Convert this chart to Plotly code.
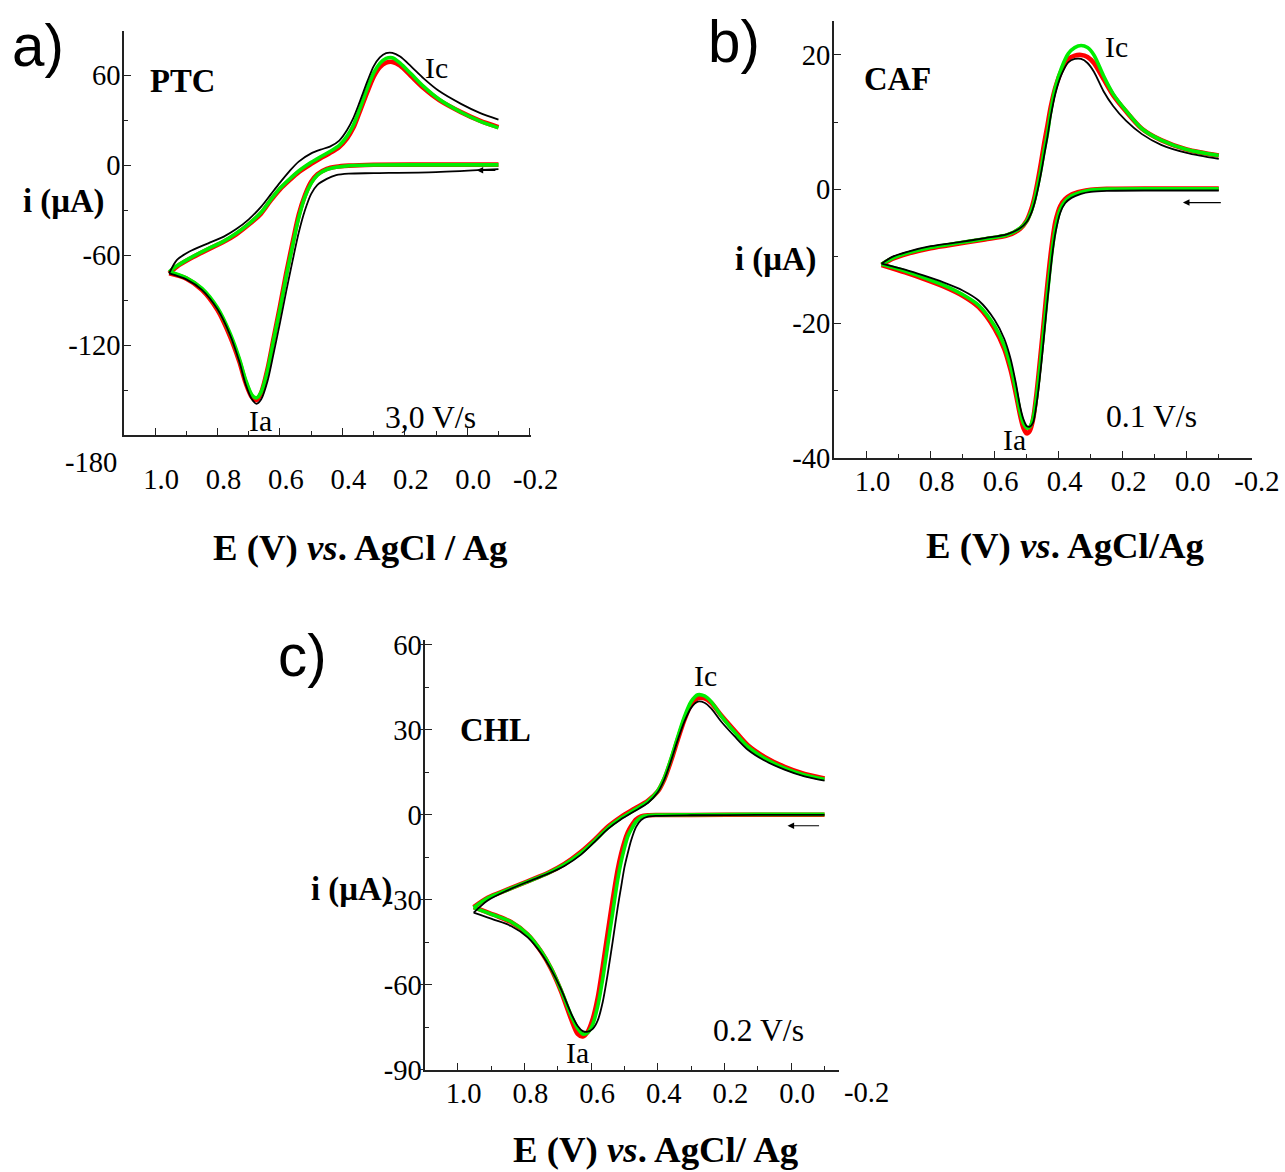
import plotly.graph_objects as go

# Target picture size. The page is shown scaled by S with a top offset OY in the picture,
# so the figure is laid out in page pixels and every position is given in picture pixels.
W, H = 1285, 1172
S, OY = 0.978, 10.3
FW, FH = 1314, 1195

def px(x): return (x / S) / FW
def py(y): return 1 - ((y - OY) / S) / FH
def f(s): return round(s / S, 1)
def fi(s): return int(round(s / S))

SERIF = "Liberation Serif"
SANS = "Liberation Sans"

# ---------------- Panel a (PTC, 3.0 V/s) ----------------
E_A_fwd = [-0.10, 0.10, 0.30, 0.38, 0.42, 0.45, 0.48, 0.50, 0.52, 0.54, 0.56, 0.58, 0.60,
           0.62, 0.64, 0.66, 0.675, 0.69, 0.71, 0.73, 0.76, 0.80, 0.85, 0.90, 0.955]
I_A_fwd_red = [0.5, 0.5, 0.4, -0.2, -1.0, -2.4, -6.0, -11.0, -20, -33, -52, -72, -94,
               -115, -136, -151.5, -156.5, -154.5, -145, -131, -114, -96.5, -83, -75.5, -72]
I_A_fwd_green = [0.3, 0.3, 0.2, -0.3, -1.3, -2.8, -6.5, -12, -21, -35, -54, -74, -96,
                 -116, -137, -151, -155, -153, -143, -129, -112, -95, -82, -75, -71]
I_A_fwd_black = [-2.5, -4.5, -5.2, -5.5, -6.5, -9, -13, -19, -30, -45, -64, -84, -105,
                 -125, -144, -156, -159, -156, -146, -131, -113, -96, -83, -76, -72]
E_A_rev = [0.955, 0.93, 0.89, 0.83, 0.78, 0.74, 0.70, 0.66, 0.63, 0.60, 0.57, 0.54, 0.50,
           0.47, 0.44, 0.41, 0.385, 0.365, 0.345, 0.32, 0.30, 0.28, 0.26, 0.24, 0.215,
           0.18, 0.14, 0.09, 0.02, -0.04, -0.10]
I_A_rev_red = [-72, -67.5, -62.5, -56, -51, -46, -39.5, -32, -23.5, -16, -10, -4.5, 1,
               4.8, 8.2, 12.3, 18, 25, 35.5, 49, 59, 65.5, 68.5, 69, 66.5,
               59.5, 51.5, 43.5, 35.5, 29.8, 25.5]
I_A_rev_green = [-71, -67, -62, -55.5, -50.5, -45.3, -39, -31.3, -23, -15.3, -9.3, -3.8, 2,
                 5.7, 9.2, 13.3, 19.5, 26.7, 37.3, 51.5, 61.6, 68, 71.3, 71.8, 68.2,
                 61, 52.6, 44, 35.4, 29.5, 25]
I_A_rev_black = [-72, -63, -57.5, -52, -47.5, -42.5, -36, -27.5, -19.5, -11.5, -4, 2.5, 8,
                 10.5, 12.5, 16.5, 23.5, 31.5, 42, 56, 66, 72, 74.8, 75, 72.5,
                 66, 58, 49.5, 41, 35, 30.5]

# ---------------- Panel b (CAF, 0.1 V/s) ----------------
E_B_fwd = [-0.10, 0.10, 0.25, 0.30, 0.33, 0.36, 0.38, 0.395, 0.41, 0.42, 0.43, 0.44, 0.45,
           0.46, 0.47, 0.48, 0.49, 0.50, 0.51, 0.52, 0.535, 0.55, 0.57, 0.60, 0.65, 0.70,
           0.76, 0.82, 0.88, 0.953]
I_B_fwd_red = [0.1, 0.1, 0.05, -0.1, -0.35, -0.8, -1.5, -2.5, -4.8, -7.8, -11.8, -16.5, -21.5,
               -26.3, -30.8, -34.3, -36.0, -36.4, -35.6, -33.8, -30.2, -27.0, -23.8, -20.8,
               -17.6, -15.9, -14.5, -13.4, -12.4, -11.3]
I_B_fwd_green = [0.05, 0.05, 0.0, -0.15, -0.45, -1.0, -1.8, -3.0, -5.8, -9.0, -13.2, -17.9, -22.7,
                 -27.2, -31.4, -34.2, -35.4, -35.6, -34.9, -33.3, -29.6, -26.4, -23.3, -20.4,
                 -17.3, -15.7, -14.3, -13.2, -12.2, -11.2]
I_B_fwd_black = [-0.2, -0.2, -0.25, -0.4, -0.7, -1.3, -2.1, -3.5, -6.5, -9.8, -14.2, -19.0, -24.0,
                 -28.6, -32.3, -34.8, -35.4, -35.3, -34.3, -32.5, -28.6, -25.3, -22.3, -19.5,
                 -16.6, -15.1, -13.9, -12.9, -12.0, -11.1]
E_B_rev = [0.953, 0.92, 0.87, 0.80, 0.71, 0.63, 0.56, 0.52, 0.50, 0.485, 0.475, 0.465, 0.455,
           0.445, 0.435, 0.425, 0.41, 0.39, 0.37, 0.35, 0.33, 0.31, 0.29, 0.26, 0.23, 0.19,
           0.14, 0.08, 0.0, -0.10]
I_B_rev_red = [-11.3, -10.4, -9.6, -8.8, -8.1, -7.5, -6.9, -5.9, -4.7, -2.9, -1.1, 1.3, 4.0,
               6.9, 9.5, 12.2, 15.2, 17.8, 19.4, 19.9, 20.0, 19.7, 18.8, 16.4, 14.0, 11.6,
               9.0, 7.3, 5.9, 5.0]
I_B_rev_green = [-11.2, -10.3, -9.5, -8.7, -8.0, -7.4, -6.8, -5.8, -4.8, -3.2, -1.6, 0.6, 3.0,
                 5.8, 8.3, 11.5, 15.2, 18.2, 20.2, 21.1, 21.4, 21.1, 20.0, 16.9, 14.2, 11.7,
                 9.0, 7.3, 5.9, 5.0]
I_B_rev_black = [-11.1, -10.1, -9.3, -8.5, -7.9, -7.3, -6.7, -5.8, -4.9, -3.5, -2.0, 0.0, 2.4,
                 5.1, 7.8, 10.8, 14.3, 17.2, 18.9, 19.4, 19.4, 18.8, 17.5, 14.6, 12.4, 10.2,
                 8.2, 6.6, 5.4, 4.5]

# ---------------- Panel c (CHL, 0.2 V/s) ----------------
E_C_fwd = [-0.10, 0.10, 0.30, 0.40, 0.43, 0.45, 0.465, 0.48, 0.49, 0.50, 0.51, 0.52, 0.535,
           0.55, 0.565, 0.58, 0.595, 0.61, 0.625, 0.64, 0.66, 0.69, 0.72, 0.75, 0.79, 0.84,
           0.89, 0.952]
I_C_fwd_red = [0.1, 0.1, 0.0, 0.0, -0.1, -0.5, -1.6, -4.0, -6.2, -9.5, -13.8, -19.2, -29.8,
               -41.5, -53.5, -64.5, -72.0, -76.5, -78.2, -77.3, -72.0, -62.3, -54.3, -48.2,
               -42.2, -37.8, -35.3, -32.5]
I_C_fwd_green = [0.2, 0.2, 0.1, 0.0, -0.2, -0.8, -2.3, -5.2, -7.6, -11.7, -16.6, -22.8, -34.3,
                 -46.0, -57.8, -67.5, -73.9, -76.8, -77.3, -75.4, -70.7, -61.8, -54.0, -48.0,
                 -42.1, -37.7, -35.4, -32.7]
I_C_fwd_black = [0.0, 0.0, -0.1, -0.3, -0.6, -1.8, -4.2, -9.0, -13.5, -18.5, -25.5, -32.5, -44.5,
                 -56.0, -66.0, -72.5, -75.5, -76.5, -76.3, -74.5, -70.0, -61.5, -54.5, -48.8,
                 -43.2, -39.2, -37.0, -34.5]
E_C_rev = [0.952, 0.91, 0.85, 0.79, 0.73, 0.68, 0.63, 0.59, 0.55, 0.51, 0.47, 0.43, 0.40,
           0.38, 0.36, 0.34, 0.32, 0.30, 0.28, 0.26, 0.24, 0.21, 0.17, 0.13, 0.08, 0.02,
           -0.04, -0.10]
I_C_rev_red = [-32.5, -29.2, -26.3, -23.4, -20.5, -17.3, -13.0, -8.8, -4.2, -0.7, 2.2, 5.0, 8.3,
               12.7, 19.2, 26.6, 33.6, 39.0, 41.2, 41.2, 39.6, 35.2, 29.8, 24.6, 20.5, 17.0,
               14.5, 12.9]
I_C_rev_green = [-32.7, -29.3, -26.4, -23.5, -20.6, -17.5, -13.4, -9.2, -4.6, -1.1, 1.8, 4.7, 8.5,
                 13.2, 20.0, 27.6, 34.7, 40.0, 42.4, 42.0, 40.0, 35.0, 29.3, 24.1, 20.0, 16.5,
                 14.1, 12.6]
I_C_rev_black = [-34.5, -30.2, -26.6, -23.6, -20.8, -18.0, -14.0, -9.6, -5.0, -1.5, 1.3, 4.2, 8.0,
                 12.6, 19.2, 26.5, 33.0, 37.8, 40.0, 39.6, 37.6, 33.0, 27.8, 23.0, 19.2, 16.0,
                 13.6, 12.1]

# ---------------- Tick labels ----------------
X_TICKS = [1.0, 0.8, 0.6, 0.4, 0.2, 0.0, -0.2]
X_TICK_TEXT = ["1.0", "0.8", "0.6", "0.4", "0.2", "0.0", "-0.2"]
Y_TICKS_A = [60, 0, -60, -120, -180]
Y_TICK_TEXT_A = ["60", "0", "-60", "-120", ""]
Y_TICKS_B = [20, 0, -20, -40]
Y_TICK_TEXT_B = ["20", "0", "-20", "-40"]
Y_TICKS_C = [60, 30, 0, -30, -60, -90]
Y_TICK_TEXT_C = ["60", "30", "0", "-30", "-60", "-90"]

RED, GREEN, BLACK = "#ff0000", "#00ee00", "#000000"

panels = [
    dict(xa="x", ya="y",
         fwd=(E_A_fwd, I_A_fwd_red, I_A_fwd_green, I_A_fwd_black),
         rev=(E_A_rev, I_A_rev_red, I_A_rev_green, I_A_rev_black)),
    dict(xa="x2", ya="y2",
         fwd=(E_B_fwd, I_B_fwd_red, I_B_fwd_green, I_B_fwd_black),
         rev=(E_B_rev, I_B_rev_red, I_B_rev_green, I_B_rev_black)),
    dict(xa="x3", ya="y3",
         fwd=(E_C_fwd, I_C_fwd_red, I_C_fwd_green, I_C_fwd_black),
         rev=(E_C_rev, I_C_rev_red, I_C_rev_green, I_C_rev_black)),
]

fig = go.Figure()
styles = [(RED, 4.5), (GREEN, 3.5), (BLACK, 1.8)]
for p in panels:
    for k, (col, wid) in enumerate(styles):
        for br in ("fwd", "rev"):
            E = p[br][0]
            I = p[br][k + 1]
            fig.add_trace(go.Scatter(
                x=E, y=I, mode="lines", xaxis=p["xa"], yaxis=p["ya"],
                line=dict(color=col, width=f(wid), shape="spline", smoothing=0.8),
                showlegend=False, hoverinfo="skip"))
# empty trace so the overlay axis of panel c (outer half of its crossing ticks) is drawn
fig.add_trace(go.Scatter(x=[], y=[], xaxis="x3", yaxis="y4", mode="lines",
                         showlegend=False, hoverinfo="skip"))

tickfont = dict(family=SERIF, size=f(28), color="black")
LINE = "#222222"

def xaxis(dom, rng, standoff):
    return dict(domain=[px(dom[0]), px(dom[1])], range=rng, showgrid=False, zeroline=False,
                showline=True, linecolor=LINE, linewidth=f(1.5),
                tickmode="array", tickvals=X_TICKS, ticktext=X_TICK_TEXT,
                ticks="inside", ticklen=f(7), tickwidth=f(1.3), tickcolor=LINE,
                ticklabelstandoff=fi(standoff), ticklabelshift=fi(-6),
                minor=dict(dtick=0.1, tick0=0, ticks="inside", ticklen=f(4), tickwidth=f(1.2),
                           tickcolor=LINE),
                tickfont=tickfont, fixedrange=True)

def yaxis(dom, rng, tv, tt, mdt):
    return dict(domain=[py(dom[1]), py(dom[0])], range=rng, showgrid=False, zeroline=False,
                showline=True, linecolor=LINE, linewidth=f(1.5),
                tickmode="array", tickvals=tv, ticktext=tt,
                ticks="inside", ticklen=f(7), tickwidth=f(1.3), tickcolor=LINE,
                ticklabelstandoff=fi(-4),
                minor=dict(dtick=mdt, tick0=0, ticks="inside", ticklen=f(4), tickwidth=f(1.2),
                           tickcolor=LINE),
                tickfont=tickfont, fixedrange=True)

C_YDOM = (640, 1070)
C_YRANGE = [-90, 61.8]

fig.update_layout(
    width=FW, height=FH, margin=dict(l=0, r=0, t=0, b=0),
    paper_bgcolor="white", plot_bgcolor="white", showlegend=False,
    xaxis=dict(xaxis((124, 530.7), [1.0994, -0.2045], 18), anchor="y"),
    yaxis=dict(yaxis((31.7, 435.5), [-180, 89.3], Y_TICKS_A, Y_TICK_TEXT_A, 30), anchor="x"),
    xaxis2=dict(xaxis((833.3, 1250.7), [1.102, -0.2024], -3), anchor="y2"),
    yaxis2=dict(yaxis((21.7, 457.7), [-40, 25], Y_TICKS_B, Y_TICK_TEXT_B, 10), anchor="x2"),
    xaxis3=dict(xaxis((425, 838.3), [1.097, -0.143], -3), anchor="y3"),
    yaxis3=dict(yaxis(C_YDOM, C_YRANGE, Y_TICKS_C, Y_TICK_TEXT_C, 15), anchor="x3"),
    yaxis4=dict(overlaying="y3", anchor="x3", side="left", range=C_YRANGE,
                showgrid=False, zeroline=False, showline=False, showticklabels=False,
                tickmode="array", tickvals=Y_TICKS_C, ticks="outside", ticklen=f(6),
                tickwidth=f(1.3), tickcolor=LINE, fixedrange=True),
)

ann = []
def txt(t, x, y, size, family=SERIF, bold=False, xanchor="center"):
    s = f"<b>{t}</b>" if bold else t
    ann.append(dict(text=s, x=px(x), y=py(y), xref="paper", yref="paper",
                    xanchor=xanchor, yanchor="middle", showarrow=False,
                    font=dict(family=family, size=f(size), color="black")))

# panel letters
txt("a)", 38, 46, 57, family=SANS)
txt("b)", 733, 42, 57, family=SANS)
txt("c)", 302, 656, 57, family=SANS)
# compound names
txt("PTC", 182.5, 81.5, 32, bold=True)
txt("CAF", 896.5, 79, 32, bold=True)
txt("CHL", 495, 730, 32, bold=True)
# y titles
txt("i (µA)", 63, 202, 32, bold=True)
txt("i (µA)", 775, 260, 32, bold=True)
txt("i (µA)", 351, 890, 32, bold=True)
# x titles
xt_a = "E (V) <i>vs</i>. AgCl / Ag"
xt_b = "E (V) <i>vs</i>. AgCl/Ag"
xt_c = "E (V) <i>vs</i>. AgCl/ Ag"
txt(xt_a, 360, 548, 36, bold=True)
txt(xt_b, 1065, 546, 36, bold=True)
txt(xt_c, 656, 1150, 36, bold=True)
# peak labels and scan rates
txt("Ic", 436, 68.5, 29)
txt("Ia", 260.5, 421.5, 29)
txt("3,0 V/s", 430, 418, 31)
txt("Ic", 1116, 47.5, 29)
txt("Ia", 1014, 440.5, 29)
txt("0.1 V/s", 1151, 417, 31)
txt("Ic", 705, 676.5, 29)
txt("Ia", 577.5, 1053.5, 29)
txt("0.2 V/s", 757.5, 1031, 31)
# detached tick labels
txt("-180", 91, 463, 28)
txt("-0.2", 866, 1093, 28)

# scan direction arrows
for (xr, yr, hx, tx, yy) in [("x", "y", -0.03, -0.095, -3.3),
                             ("x2", "y2", 0.012, -0.111, -2.0),
                             ("x3", "y3", 0.011, -0.088, -3.8)]:
    ann.append(dict(x=hx, y=yy, ax=tx, ay=yy, xref=xr, yref=yr, axref=xr, ayref=yr,
                    text="", showarrow=True, arrowhead=2, arrowsize=1.1, arrowwidth=f(1.2),
                    arrowcolor="black"))

fig.update_layout(annotations=ann)

# pin the figure to the top-left corner of the page (no body margin, no scrollbars)
POST = ("document.documentElement.style.margin='0';document.body.style.margin='0';"
        "document.body.style.padding='0';document.documentElement.style.overflow='hidden';"
        "document.body.style.overflow='hidden';"
        "var gd=document.getElementById('{plot_id}');gd.style.position='absolute';"
        "gd.style.left='0px';gd.style.top='0px';")
fig.write_html("out.html", post_script=POST, config={"displayModeBar": False})
